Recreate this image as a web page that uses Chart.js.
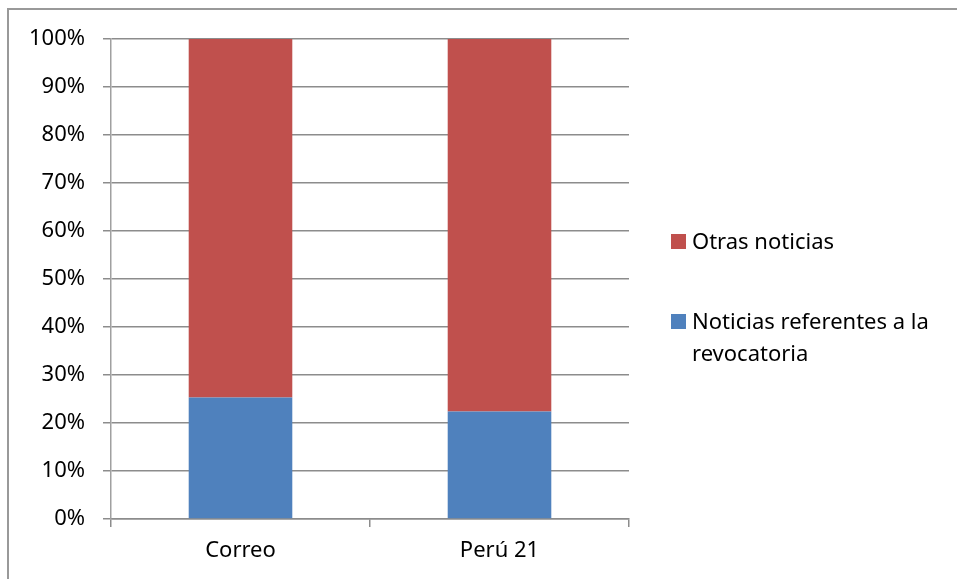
<!DOCTYPE html>
<html>
<head>
<meta charset="utf-8">
<script src="https://cdn.jsdelivr.net/npm/chart.js@4"></script>
<style>
  html, body { margin: 0; padding: 0; background: #fff; }
  #wrap { position: relative; width: 957px; height: 579px; overflow: hidden; }
  #frame { position: absolute; left: 7px; top: 8px; width: 1000px; height: 1000px; border: 2px solid #999; box-sizing: border-box; pointer-events: none; }
  canvas { position: absolute; left: 0; top: 0; }
</style>
</head>
<body>
<div id="wrap">
  <canvas id="c" width="957" height="579"></canvas>
  <div id="frame"></div>
</div>
<script>
const categories = ['Correo', 'Perú 21'];
const revocatoria = [25.3, 22.4];
const otras = [74.7, 77.6];
const seriesNames = ['Noticias referentes a la revocatoria', 'Otras noticias'];
const yTicks = [0, 10, 20, 30, 40, 50, 60, 70, 80, 90, 100];

const FONT = '"Noto Sans", "Open Sans", sans-serif';
const FS = 22;

const legendPlugin = {
  id: 'sideLegend',
  afterDraw(chart) {
    const ctx = chart.ctx;
    const ca = chart.chartArea;
    const x0 = ca.right + 42;
    const sq = 15;
    const textX = x0 + 21;
    const maxW = 957 - textX - 6;
    const ds = chart.data.datasets.slice().reverse();
    const baselines = [249, 329];
    ctx.save();
    ctx.font = FS + 'px ' + FONT;
    ctx.textBaseline = 'alphabetic';
    ctx.textAlign = 'left';
    ds.forEach((d, i) => {
      const b = baselines[i];
      ctx.fillStyle = d.backgroundColor;
      ctx.fillRect(x0, b - sq, sq, sq);
      ctx.fillStyle = '#000';
      const words = d.label.split(' ');
      const lines = [];
      let cur = '';
      words.forEach(w => {
        const t = cur ? cur + ' ' + w : w;
        if (ctx.measureText(t).width > maxW && cur) { lines.push(cur); cur = w; }
        else cur = t;
      });
      if (cur) lines.push(cur);
      lines.forEach((ln, j) => ctx.fillText(ln, textX, b + j * 32));
    });
    ctx.restore();
  }
};

new Chart(document.getElementById('c'), {
  type: 'bar',
  data: {
    labels: categories,
    datasets: [
      { label: seriesNames[0], data: revocatoria, backgroundColor: '#4F81BD', borderWidth: 0 },
      { label: seriesNames[1], data: otras, backgroundColor: '#C0504D', borderWidth: 0 }
    ]
  },
  options: {
    responsive: false,
    animation: false,
    events: [],
    layout: { padding: { left: 0, right: 328, top: 39, bottom: 0 } },
    plugins: { legend: { display: false }, tooltip: { enabled: false } },
    datasets: { bar: { categoryPercentage: 1.0, barPercentage: 0.4 } },
    scales: {
      x: {
        stacked: true,
        offset: true,
        grid: { display: true, drawOnChartArea: false, drawTicks: true, tickLength: 8, offset: true, color: '#8c8c8c', lineWidth: 1.5 },
        border: { display: true, color: '#8c8c8c', width: 1.5 },
        ticks: { color: '#000', font: { family: FONT, size: FS }, padding: 11 },
        afterFit(s) { s.height = 60; }
      },
      y: {
        stacked: true,
        min: 0,
        max: 100,
        afterBuildTicks(s) { s.ticks = yTicks.map(v => ({ value: v })); },
        grid: { color: '#8c8c8c', lineWidth: 1.5, tickLength: 8 },
        border: { display: true, color: '#a0a0a0', width: 1.5 },
        ticks: { color: '#000', font: { family: FONT, size: FS }, padding: 18, callback: v => v + '%' },
        afterFit(s) { s.width = 111; }
      }
    }
  },
  plugins: [legendPlugin]
});
</script>
</body>
</html>
